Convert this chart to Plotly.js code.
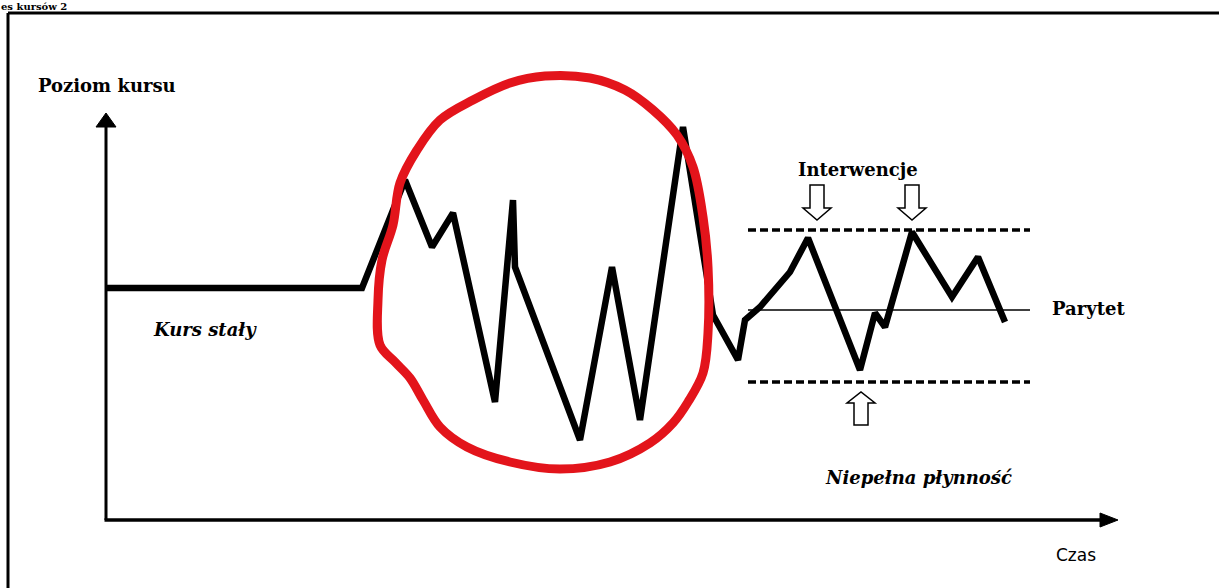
<!DOCTYPE html>
<html>
<head>
<meta charset="utf-8">
<script src="https://cdn.plot.ly/plotly-3.0.1.min.js"></script>
<style>
html,body{margin:0;padding:0;background:#fff;}
#chart{width:1219px;height:588px;}
</style>
</head>
<body>
<div id="chart"></div>
<script>
// ---- Data (time units, level units) ----
const rateTime  = [0, 256, 299, 326, 347, 389, 407, 409, 474, 506, 534, 577, 607, 632, 639, 654, 684, 702, 754, 769, 779, 806, 846, 872, 899];
const rateLevel = [232, 232, 340, 273, 307, 118, 320, 253, 80, 253, 100, 393, 205, 160, 200, 213, 248, 282, 150, 207, 193, 288, 223, 263, 198];

const circleTime  = [439, 484, 519, 547, 571, 587, 597, 602, 602, 597, 582, 567, 544, 504, 454, 404, 361, 334, 317, 304, 289, 274, 272, 276, 287, 294, 311, 334, 367, 404, 439];
const circleLevel = [444, 442, 430, 410, 385, 353, 303, 253, 187, 147, 118, 97, 77, 58, 51, 58, 73, 93, 120, 142, 158, 175, 220, 260, 295, 337, 370, 400, 420, 437, 444];

const bandTime   = [642, 924];
const parityLevel = 210;
const upperLevel  = 290;
const lowerLevel  = 138;

const interventionDownTimes = [711, 806];
const interventionUpTimes   = [755];

const labels = {
  header: "es kursów 2",
  yTitle: "Poziom kursu",
  xTitle: "Czas",
  fixed: "Kurs stały",
  interventions: "Interwencje",
  parity: "Parytet",
  partial: "Niepełna płynność"
};

// ---- Styles / layout config ----
const W = 1219, H = 588;
const serif = "DejaVu Serif, Liberation Serif, serif";
const xRange = [-106, W - 106];
const yRange = [-68, 520];
const axisTop = 407, axisRight = 1012;

const traces = [
  {x: [bandTime[0], bandTime[1]], y: [parityLevel, parityLevel], mode: 'lines', line: {color: '#000', width: 1.3}, hoverinfo: 'skip'},
  {x: [bandTime[0], bandTime[1]], y: [upperLevel, upperLevel], mode: 'lines', line: {color: '#000', width: 3.5, dash: '8px,4px'}, hoverinfo: 'skip'},
  {x: [bandTime[0], bandTime[1]], y: [lowerLevel, lowerLevel], mode: 'lines', line: {color: '#000', width: 3.5, dash: '8px,4px'}, hoverinfo: 'skip'},
  {x: rateTime, y: rateLevel, mode: 'lines', line: {color: '#000', width: 6.5}, hoverinfo: 'skip'},
  {x: circleTime, y: circleLevel, mode: 'lines', line: {color: '#e3141b', width: 9, shape: 'spline', smoothing: 1}, hoverinfo: 'skip'}
];

function downArrow(cx, top, tip) {
  const sw = 7, hw = 14, hh = 12;
  return `M${cx - sw},${top} L${cx + sw},${top} L${cx + sw},${tip + hh} L${cx + hw},${tip + hh} L${cx},${tip} L${cx - hw},${tip + hh} L${cx - sw},${tip + hh} Z`;
}
function upArrow(cx, bottom, tip) {
  const sw = 7, hw = 14, hh = 11;
  return `M${cx - sw},${bottom} L${cx + sw},${bottom} L${cx + sw},${tip - hh} L${cx + hw},${tip - hh} L${cx},${tip} L${cx - hw},${tip - hh} L${cx - sw},${tip - hh} Z`;
}

const shapes = [
  // frame
  {type: 'line', xref: 'paper', yref: 'paper', x0: 8 / W, x1: 1, y0: 1 - 13 / H, y1: 1 - 13 / H, line: {color: '#000', width: 3}},
  {type: 'line', xref: 'paper', yref: 'paper', x0: 8 / W, x1: 8 / W, y0: 1 - 13 / H, y1: 0, line: {color: '#000', width: 3}},
  // axes
  {type: 'line', xref: 'x', yref: 'y', x0: 0, x1: 0, y0: 0, y1: axisTop - 8, line: {color: '#000', width: 3}},
  {type: 'line', xref: 'x', yref: 'y', x0: -1.5, x1: axisRight - 8, y0: 0, y1: 0, line: {color: '#000', width: 3.5}},
  {type: 'path', xref: 'x', yref: 'y', path: `M-10,${axisTop - 14} L10,${axisTop - 14} L0,${axisTop} Z`, fillcolor: '#000', line: {color: '#000', width: 1}},
  {type: 'path', xref: 'x', yref: 'y', path: `M${axisRight - 18},-7 L${axisRight - 18},7 L${axisRight},0 Z`, fillcolor: '#000', line: {color: '#000', width: 1}}
];
interventionDownTimes.forEach(t => shapes.push({type: 'path', xref: 'x', yref: 'y', path: downArrow(t, 335, 300), fillcolor: '#fff', line: {color: '#000', width: 1.5}}));
interventionUpTimes.forEach(t => shapes.push({type: 'path', xref: 'x', yref: 'y', path: upArrow(t, 95, 128), fillcolor: '#fff', line: {color: '#000', width: 1.5}}));

function font(size, extra) {
  return Object.assign({family: serif, size: size, color: '#000', weight: 'bold'}, extra || {});
}
function txt(text, x, y, opts) {
  return Object.assign({text: text, x: x, y: y, xref: 'x', yref: 'y', showarrow: false,
    xanchor: 'center', yanchor: 'middle', font: font(18)}, opts || {});
}

const annotations = [
  txt(labels.header, 0, 1, {xref: 'paper', yref: 'paper', xanchor: 'left', yanchor: 'top', borderpad: 0, font: font(10)}),
  txt(labels.yTitle, 1, 435, {font: font(18)}),
  txt(labels.xTitle, 970, -35, {font: font(17, {family: "DejaVu Sans, sans-serif", weight: 'normal'})}),
  txt(labels.fixed, 99, 191, {font: font(18, {style: 'italic'})}),
  txt(labels.interventions, 752, 351, {font: font(18)}),
  txt(labels.parity, 982, 212, {font: font(18)}),
  txt(labels.partial, 812, 43, {font: font(18, {style: 'italic'})})
];

const layout = {
  width: W, height: H,
  margin: {l: 0, r: 0, t: 0, b: 0},
  paper_bgcolor: '#fff', plot_bgcolor: '#fff',
  showlegend: false,
  xaxis: {range: xRange, visible: false, fixedrange: true},
  yaxis: {range: yRange, visible: false, fixedrange: true},
  shapes: shapes,
  annotations: annotations
};

Plotly.newPlot('chart', traces, layout, {staticPlot: true, displayModeBar: false});
</script>
</body>
</html>
